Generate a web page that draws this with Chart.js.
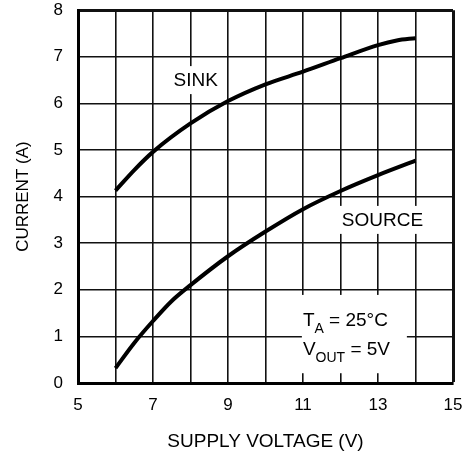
<!DOCTYPE html>
<html>
<head>
<meta charset="utf-8">
<script src="https://cdn.jsdelivr.net/npm/chart.js@4"></script>
<style>
  html, body { margin: 0; padding: 0; background: #fff; }
  #wrap { width: 470px; height: 457px; }
</style>
</head>
<body>
<div id="wrap"><canvas id="currentChart"></canvas></div>
<script>
// values
const sinkVoltage = [6, 6.5, 7, 8, 9, 10, 11, 12, 13, 13.5, 14];
const sinkCurrent = [4.13, 4.57, 4.96, 5.57, 6.05, 6.41, 6.68, 6.97, 7.25, 7.35, 7.40];
const sourceVoltage = [6, 6.5, 7, 7.5, 8, 9, 10, 11, 12, 13, 14];
const sourceCurrent = [0.32, 0.86, 1.33, 1.76, 2.1, 2.72, 3.25, 3.73, 4.12, 4.46, 4.77];
const xLabelTicks = [5, 7, 9, 11, 13, 15];

// text annotations, placed in data units
const curveNotes = [
  { text: 'SINK', x: 8.14, y: 6.5 },
  { text: 'SOURCE', x: 13.12, y: 3.5 }
];
const condBox = { x0: 10.97, x1: 13.77, y0: 1.89, y1: 0.21 };

const FONT = '"Liberation Sans", Arial, Helvetica, sans-serif';

const toPoints = (xs, ys) => xs.map((x, i) => ({ x, y: ys[i] }));

const notesPlugin = {
  id: 'notes',
  afterDatasetsDraw(chart) {
    const { ctx, scales: { x, y } } = chart;
    ctx.save();
    ctx.font = '19px ' + FONT;
    ctx.textBaseline = 'middle';
    ctx.textAlign = 'center';
    curveNotes.forEach(n => {
      const px = x.getPixelForValue(n.x);
      const py = y.getPixelForValue(n.y);
      const w = ctx.measureText(n.text).width + 10;
      ctx.fillStyle = '#fff';
      ctx.fillRect(px - w / 2, py - 14, w, 28);
      ctx.fillStyle = '#000';
      ctx.fillText(n.text, px, py + 1);
    });

    // conditions box
    const bx0 = x.getPixelForValue(condBox.x0);
    const bx1 = x.getPixelForValue(condBox.x1);
    const by0 = y.getPixelForValue(condBox.y0);
    const by1 = y.getPixelForValue(condBox.y1);
    ctx.fillStyle = '#fff';
    ctx.fillRect(bx0, by0, bx1 - bx0, by1 - by0);

    ctx.fillStyle = '#000';
    ctx.textAlign = 'left';
    ctx.textBaseline = 'alphabetic';
    const big = '19px ' + FONT;
    const small = '14px ' + FONT;
    const line = (parts, sx, base) => {
      let cx = sx;
      parts.forEach(([t, sub]) => {
        ctx.font = sub ? small : big;
        ctx.fillText(t, cx, sub ? base + 7 : base);
        cx += ctx.measureText(t).width;
      });
    };
    line([['T', 0], ['A', 1], [' = 25°C', 0]], bx0 + 1, by0 + 31);
    line([['V', 0], ['OUT', 1], [' = 5V', 0]], bx0 + 1, by0 + 60);
    ctx.restore();
  }
};

new Chart(document.getElementById('currentChart'), {
  type: 'line',
  data: {
    datasets: [
      {
        label: 'SINK',
        data: toPoints(sinkVoltage, sinkCurrent),
        borderColor: '#000',
        borderWidth: 4,
        pointRadius: 0,
        cubicInterpolationMode: 'monotone',
        fill: false
      },
      {
        label: 'SOURCE',
        data: toPoints(sourceVoltage, sourceCurrent),
        borderColor: '#000',
        borderWidth: 4,
        pointRadius: 0,
        cubicInterpolationMode: 'monotone',
        fill: false
      }
    ]
  },
  options: {
    responsive: true,
    maintainAspectRatio: false,
    animation: false,
    layout: { padding: { top: 10, right: 17, bottom: 0, left: 0 } },
    plugins: {
      legend: { display: false },
      tooltip: { enabled: false }
    },
    scales: {
      x: {
        type: 'linear',
        min: 5,
        max: 15,
        afterFit: (s) => { s.height = 74; },
        ticks: {
          stepSize: 1,
          padding: 0,
          color: '#000',
          font: { family: FONT, size: 17 },
          callback: (v) => xLabelTicks.includes(v) ? String(v) : ''
        },
        grid: {
          drawTicks: true,
          tickLength: 12,
          tickColor: 'rgba(0,0,0,0)',
          color: '#111',
          lineWidth: (c) => (c.tick && c.tick.value === 15 ? 3 : 1.6)
        },
        border: { display: true, color: '#000', width: 3 },
        title: {
          display: true,
          text: 'SUPPLY VOLTAGE (V)',
          color: '#000',
          font: { family: FONT, size: 19 },
          padding: { top: 0, bottom: 4 }
        }
      },
      y: {
        min: 0,
        max: 8,
        afterFit: (s) => { s.width = 78; },
        ticks: {
          stepSize: 1,
          padding: 0,
          color: '#000',
          font: { family: FONT, size: 17 }
        },
        grid: {
          drawTicks: true,
          tickLength: 15,
          tickColor: 'rgba(0,0,0,0)',
          color: '#111',
          lineWidth: (c) => (c.tick && c.tick.value === 8 ? 3 : 1.6)
        },
        border: { display: true, color: '#000', width: 3 },
        title: {
          display: true,
          text: 'CURRENT (A)',
          color: '#000',
          font: { family: FONT, size: 17 },
          padding: { top: 13, bottom: 0 }
        }
      }
    }
  },
  plugins: [notesPlugin]
});
</script>
</body>
</html>
